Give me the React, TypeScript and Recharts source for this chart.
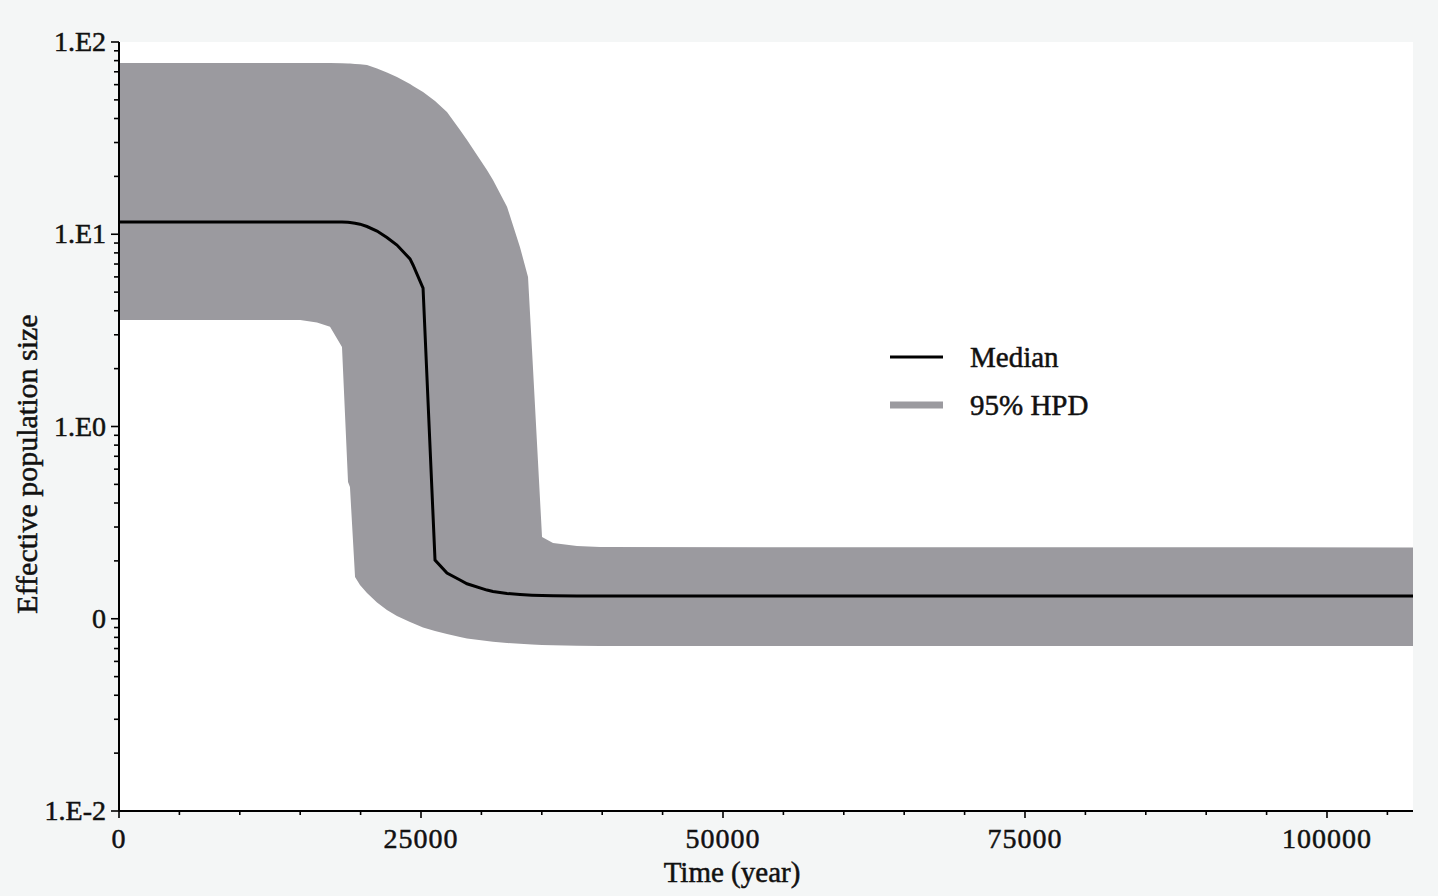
import { Area, CartesianGrid, ComposedChart, Legend, Line, XAxis, YAxis } from 'recharts'

// (time in years, effective population size)
const timeYears = [
  0, 15000, 16390, 17470, 18460, 18960, 19120, 19540, 19950, 20530, 21360, 22180, 23010, 24090,
  24340, 25170, 26160, 27150, 28230, 28810, 30460, 30960, 32120, 33190, 33860, 34190, 35020,
  35930, 37910, 39820, 107120,
]
const hpdUpper = [
  77.8, 77.8, 77.8, 77.8, 77.6, 77.4, 77.3, 76.9, 76.6, 75.9, 72.8, 69.4, 65.7, 60.5, 59.0, 54.9,
  49.3, 43.2, 34.9, 30.9, 21.6, 19.15, 13.9, 8.59, 5.99, 2.5, 0.266, 0.248, 0.239, 0.236, 0.235,
]
const medianSize = [
  11.58, 11.58, 11.58, 11.58, 11.58, 11.54, 11.51, 11.42, 11.28, 10.97, 10.39, 9.62, 8.79, 7.44,
  6.92, 5.25, 0.202, 0.173, 0.159, 0.152, 0.141, 0.1385, 0.1353, 0.1337, 0.1329, 0.1326, 0.1321,
  0.1318, 0.1315, 0.1315, 0.1315,
]
const hpdLower = [
  3.58, 3.58, 3.47, 3.3, 2.59, 0.514, 0.484, 0.165, 0.1498, 0.136, 0.1215, 0.111, 0.1033, 0.0962,
  0.0947, 0.0901, 0.0864, 0.0833, 0.0804, 0.079, 0.0766, 0.076, 0.0748, 0.0741, 0.0737, 0.0735,
  0.0731, 0.0728, 0.0724, 0.0722, 0.0722,
]

const xTicks = [
  0, 5000, 10000, 15000, 20000, 25000, 30000, 35000, 40000, 45000, 50000, 55000, 60000, 65000,
  70000, 75000, 80000, 85000, 90000, 95000, 100000, 105000,
]
const xMajor = [0, 25000, 50000, 75000, 100000]

const yTicks = [
  0.01, 0.02, 0.03, 0.04, 0.05, 0.06, 0.07, 0.08, 0.09, 0.1, 0.2, 0.3, 0.4, 0.5, 0.6, 0.7, 0.8,
  0.9, 1, 2, 3, 4, 5, 6, 7, 8, 9, 10, 20, 30, 40, 50, 60, 70, 80, 90, 100,
]
const yLabels: Record<string, string> = {
  '100': '1.E2',
  '10': '1.E1',
  '1': '1.E0',
  '0.1': '0',
  '0.01': '1.E-2',
}

const legendNames = ['Median', '95% HPD']

const rows = timeYears.map((t, i) => ({
  time: t,
  median: medianSize[i],
  band: [hpdLower[i], hpdUpper[i]],
}))

const FONT = '"Liberation Serif", "Times New Roman", serif'
const INK = '#111'
const BAND = '#9b9a9f'
// the scan's glyphs are heavier than plain Liberation Serif
const heavy = { stroke: INK, strokeWidth: 0.5 }

function XTick({ x, y, payload }: any) {
  const major = xMajor.includes(payload.value)
  return (
    <g>
      <line x1={x} x2={x} y1={y} y2={y + (major ? 7 : 4)} stroke="#000" strokeWidth={1.6} />
      {major ? (
        <text
          x={x}
          y={y + 37}
          textAnchor="middle"
          fontFamily={FONT}
          fontSize={28}
          letterSpacing={1}
          fill={INK}
          {...heavy}
        >
          {payload.value}
        </text>
      ) : null}
    </g>
  )
}

function YTick({ x, y, payload }: any) {
  const label = yLabels[String(payload.value)]
  return (
    <g>
      <line x1={x - (label ? 8 : 5)} x2={x} y1={y} y2={y} stroke="#000" strokeWidth={1.6} />
      {label ? (
        <text x={x - 13} y={y + 9} textAnchor="end" fontFamily={FONT} fontSize={28} fill={INK} {...heavy}>
          {label}
        </text>
      ) : null}
    </g>
  )
}

function XTitle() {
  return (
    <text x={732} y={882} textAnchor="middle" fontFamily={FONT} fontSize={29} fill={INK} {...heavy}>
      Time (year)
    </text>
  )
}

function YTitle() {
  return (
    <text
      x={37}
      y={464}
      transform="rotate(-90 37 464)"
      textAnchor="middle"
      fontFamily={FONT}
      fontSize={30}
      fill={INK}
      {...heavy}
    >
      Effective population size
    </text>
  )
}

function LegendBox() {
  return (
    <div style={{ fontFamily: FONT, fontSize: 29, color: INK, WebkitTextStroke: '0.5px #111' }}>
      {legendNames.map((name, i) => (
        <div key={name} style={{ display: 'flex', alignItems: 'center', height: 48, lineHeight: '48px' }}>
          <svg width={80} height={20} style={{ display: 'block' }}>
            <line
              x1={0}
              x2={53}
              y1={10}
              y2={10}
              stroke={i === 0 ? '#000' : BAND}
              strokeWidth={i === 0 ? 3 : 7}
            />
          </svg>
          <span>{name}</span>
        </div>
      ))}
    </div>
  )
}

export default function App() {
  return (
    <div
      style={{
        position: 'fixed',
        left: 0,
        top: 0,
        width: 1438,
        height: 896,
        background: '#f4f6f6',
      }}
    >
      <ComposedChart width={1438} height={896} data={rows} margin={{ top: 42, right: 25, bottom: 0, left: 0 }}>
        <CartesianGrid horizontal={false} vertical={false} fill="#fff" />
        <XAxis
          dataKey="time"
          type="number"
          domain={[0, 107120]}
          ticks={xTicks}
          interval={0}
          height={85}
          tickSize={0}
          tickMargin={0}
          tickLine={false}
          tick={<XTick />}
          axisLine={{ stroke: '#000', strokeWidth: 2 }}
          label={<XTitle />}
        />
        <YAxis
          scale="log"
          domain={[0.01, 100]}
          allowDataOverflow
          ticks={yTicks}
          interval={0}
          width={119}
          tickSize={0}
          tickMargin={0}
          tickLine={false}
          tick={<YTick />}
          axisLine={{ stroke: '#000', strokeWidth: 2 }}
          label={<YTitle />}
        />
        <Area
          dataKey="band"
          name="95% HPD"
          type="linear"
          fill={BAND}
          fillOpacity={1}
          stroke="none"
          isAnimationActive={false}
        />
        <Line
          dataKey="median"
          name="Median"
          type="linear"
          stroke="#000"
          strokeWidth={3}
          dot={false}
          activeDot={false}
          isAnimationActive={false}
        />
        <Legend
          layout="vertical"
          align="center"
          verticalAlign="middle"
          width={260}
          wrapperStyle={{ left: 890, top: 333 }}
          content={() => <LegendBox />}
        />
      </ComposedChart>
    </div>
  )
}
